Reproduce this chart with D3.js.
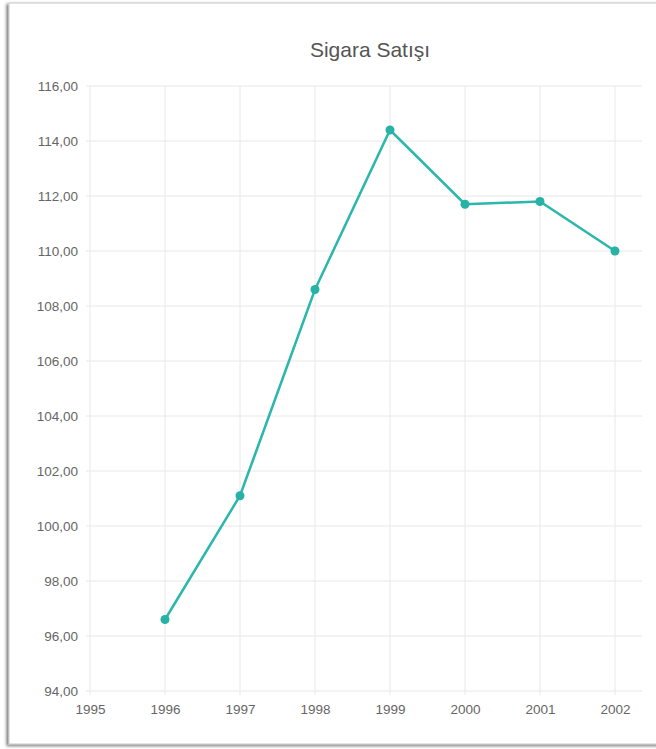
<!DOCTYPE html>
<meta charset="utf-8">
<style>
  body { margin: 0; background: #fff; }
  svg { display: block; font-family: "Liberation Sans", Arial, sans-serif; }
  .grid line { stroke: #e8e8e8; stroke-width: 1; }
  .tick text { fill: #666; font-size: 13.5px; }
</style>
<svg width="656" height="749"></svg>
<script src="https://cdn.jsdelivr.net/npm/d3@7"></script>
<script>
var years = [1996, 1997, 1998, 1999, 2000, 2001, 2002];
var sales = [96.6, 101.1, 108.6, 114.4, 111.7, 111.8, 110.0];
var xTicks = [1995, 1996, 1997, 1998, 1999, 2000, 2001, 2002];
var yTicks = [94, 96, 98, 100, 102, 104, 106, 108, 110, 112, 114, 116];

var svg = d3.select("svg");

// card with shadow
var defs = svg.append("defs");
var f = defs.append("filter").attr("id", "shadow").attr("x", "-5%").attr("y", "-5%").attr("width", "110%").attr("height", "110%");
f.append("feDropShadow").attr("dx", -2).attr("dy", 1.5).attr("stdDeviation", 1.5).attr("flood-color", "#000").attr("flood-opacity", 0.55);

svg.append("rect")
    .attr("x", 9).attr("y", 3).attr("width", 660).attr("height", 741)
    .attr("fill", "#fff").attr("stroke", "#c8c8c8").attr("stroke-width", 1)
    .attr("filter", "url(#shadow)");

var plotLeft = 90, plotRight = 642, plotTop = 86, plotBottom = 691;

var x = d3.scaleLinear().domain([1995, 2002]).range([plotLeft, 615]);
var y = d3.scaleLinear().domain([94, 116]).range([plotBottom, plotTop]);

// horizontal grid
svg.append("g").attr("class", "grid")
  .selectAll("line").data(yTicks).enter().append("line")
    .attr("x1", plotLeft - 4).attr("x2", plotRight)
    .attr("y1", function(d) { return y(d); }).attr("y2", function(d) { return y(d); });

// vertical grid
svg.append("g").attr("class", "grid")
  .selectAll("line").data(xTicks).enter().append("line")
    .attr("x1", function(d) { return x(d); }).attr("x2", function(d) { return x(d); })
    .attr("y1", plotTop).attr("y2", plotBottom + 4);

// axes (labels only)
var yAxis = svg.append("g")
    .attr("transform", "translate(" + plotLeft + ",0)")
    .call(d3.axisLeft(y).tickValues(yTicks).tickSize(0).tickPadding(12)
      .tickFormat(function(d) { return d3.format(".2f")(d).replace(".", ","); }));
yAxis.select(".domain").remove();

var xAxis = svg.append("g")
    .attr("transform", "translate(0," + plotBottom + ")")
    .call(d3.axisBottom(x).tickValues(xTicks).tickSize(0).tickPadding(13).tickFormat(d3.format("d")));
xAxis.select(".domain").remove();

// title
svg.append("text")
    .attr("x", 370).attr("y", 57)
    .attr("text-anchor", "middle")
    .attr("fill", "#555")
    .attr("font-size", "21px")
    .text("Sigara Satışı");

var data = years.map(function(d, i) { return [d, sales[i]]; });

svg.append("path")
    .datum(data)
    .attr("fill", "none")
    .attr("stroke", "#2bb7ab")
    .attr("stroke-width", 2.5)
    .attr("d", d3.line().x(function(d) { return x(d[0]); }).y(function(d) { return y(d[1]); }));

svg.append("g").selectAll("circle").data(data).enter().append("circle")
    .attr("cx", function(d) { return x(d[0]); })
    .attr("cy", function(d) { return y(d[1]); })
    .attr("r", 4.5)
    .attr("fill", "#27b2a6");
</script>
